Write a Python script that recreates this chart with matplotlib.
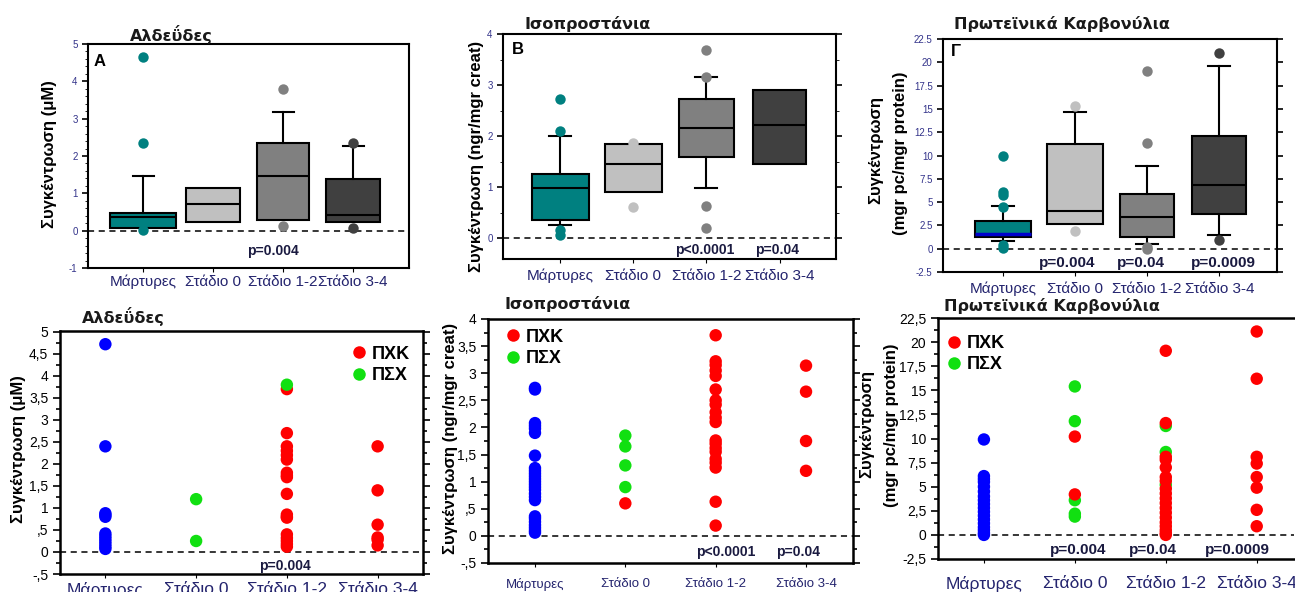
import matplotlib.pyplot as plt
import numpy as np
from matplotlib.ticker import MultipleLocator, FuncFormatter
from matplotlib.lines import Line2D

plt.rcParams['font.family'] = ['Liberation Sans', 'DejaVu Sans']

W, H = 1295, 592

categories = ['Μάρτυρες', 'Στάδιο 0', 'Στάδιο 1-2', 'Στάδιο 3-4']
box_colors = ['#008080', '#c0c0c0', '#808080', '#404040']

# --- top row: box plots (summary stats) ---
ald_q1 = [0.06, 0.24, 0.29, 0.22]
ald_med = [0.37, 0.71, 1.47, 0.43]
ald_q3 = [0.47, 1.14, 2.34, 1.39]
ald_lo = [0.06, 0.24, 0.29, 0.22]
ald_hi = [1.47, 1.14, 3.18, 2.28]
ald_fliers = [[4.65, 2.36, 0.02], [], [3.79, 0.13], [2.36, 0.07]]

iso_q1 = [0.35, 0.90, 1.58, 1.46]
iso_med = [0.99, 1.46, 2.16, 2.22]
iso_q3 = [1.26, 1.84, 2.72, 2.90]
iso_lo = [0.26, 0.90, 0.99, 1.46]
iso_hi = [2.00, 1.84, 3.15, 2.90]
iso_fliers = [[2.73, 2.09, 0.16, 0.07], [1.86, 0.60], [3.68, 3.15, 0.62, 0.19], []]

pc_q1 = [1.25, 2.67, 1.25, 3.67]
pc_med = [1.57, 4.09, 3.45, 6.83]
pc_q3 = [3.02, 11.28, 5.87, 12.06]
pc_lo = [0.78, 2.67, 0.53, 1.42]
pc_hi = [4.60, 14.63, 8.90, 19.57]
pc_fliers = [[9.96, 6.12, 5.77, 4.52, 0.43, 0.07], [15.27, 1.92], [19.07, 11.35, 0.18, 0.0], [21.0, 0.96]]

# --- bottom row: individual values ---
ald_ctrl = [4.72, 2.40, 0.88, 0.84, 0.80, 0.42, 0.36, 0.30, 0.24, 0.18, 0.12, 0.07]
ald_s0_psx = [1.20, 0.25]
ald_s12_pxk = [3.70, 2.70, 2.40, 2.30, 2.20, 2.10, 1.80, 1.74, 1.70, 1.32, 0.85, 0.80, 0.78,
               0.40, 0.32, 0.25, 0.18, 0.12]
ald_s12_psx = [3.80]
ald_s34_pxk = [2.40, 1.40, 0.62, 0.33, 0.28, 0.15]

iso_ctrl = [2.73, 2.70, 2.08, 2.03, 1.98, 1.90, 1.48, 1.25, 1.20, 1.15, 1.10, 1.05, 1.00, 0.95,
            0.90, 0.85, 0.78, 0.72, 0.66, 0.36, 0.32, 0.26, 0.20, 0.15, 0.10, 0.06]
iso_s0_psx = [1.85, 1.65, 1.30, 0.90]
iso_s0_pxk = [0.60]
iso_s12_pxk = [3.70, 3.22, 3.15, 3.05, 2.95, 2.70, 2.50, 2.42, 2.28, 2.18, 2.10, 1.76, 1.70,
               1.62, 1.55, 1.42, 1.35, 1.26, 0.63, 0.19]
iso_s34_pxk = [3.14, 2.66, 1.75, 1.20]

pc_ctrl = [9.9, 6.1, 5.8, 5.5, 5.0, 4.5, 4.0, 3.6, 3.2, 2.8, 2.4, 2.0, 1.6, 1.2, 0.8, 0.5, 0.2, 0.0]
pc_s0_psx = [15.4, 11.8, 3.6, 2.2, 1.9]
pc_s0_pxk = [10.2, 4.2]
pc_s12_pxk = [19.1, 11.6, 8.1, 7.8, 7.0, 6.0, 5.6, 4.8, 4.3, 3.8, 3.3, 2.8, 2.3, 1.8, 1.3, 0.9,
              0.5, 0.2, 0.0]
pc_s12_psx = [11.3, 8.6, 5.2]
pc_s34_pxk = [21.1, 16.2, 8.1, 7.4, 6.0, 4.9, 2.6, 0.9]

NAVY = '#24246e'
TFONT = ['DejaVu Sans']

fig = plt.figure(figsize=(W / 100, H / 100), dpi=100)


def px_axes(l, t, r, b):
    return fig.add_axes([l / W, 1 - b / H, (r - l) / W, (b - t) / H])


def ftext(x, y, s, **kw):
    fig.text(x / W, 1 - y / H, s, ha='center', va='center', **kw)


def comma_fmt(v, pos):
    s = '{:g}'.format(round(v, 3)).replace('.', ',')
    if s.startswith('0,'):
        s = s[1:]
    if s.startswith('-0,'):
        s = '-' + s[2:]
    return s


def draw_box(ax, q1, med, q3, lo, hi, fl, widths):
    stats = [dict(q1=q1[i], med=med[i], q3=q3[i], whislo=lo[i], whishi=hi[i], fliers=fl[i])
             for i in range(4)]
    bp = ax.bxp(stats, positions=[1, 2, 3, 4], widths=widths, patch_artist=True, capwidths=0.3,
                boxprops=dict(linewidth=1.5, edgecolor='black'),
                medianprops=dict(color='black', linewidth=1.5),
                whiskerprops=dict(color='black', linewidth=1.5),
                capprops=dict(color='black', linewidth=1.5),
                flierprops=dict(marker='o', markersize=7.5, markeredgewidth=0))
    for i, c in enumerate(box_colors):
        bp['boxes'][i].set_facecolor(c)
        bp['fliers'][i].set_markerfacecolor(c)
        bp['fliers'][i].set_markeredgecolor(c)
        if lo[i] >= q1[i]:
            bp['caps'][2 * i].set_visible(False)
            bp['whiskers'][2 * i].set_visible(False)
        if hi[i] <= q3[i]:
            bp['caps'][2 * i + 1].set_visible(False)
            bp['whiskers'][2 * i + 1].set_visible(False)
    return bp


def style_top(ax, xlim, ylim, major, minor, right, pad):
    ax.set_xlim(*xlim)
    ax.set_ylim(*ylim)
    ax.axhline(0, color='black', linestyle='--', linewidth=1.1, dashes=(4, 3), zorder=1)
    ax.set_xticks([1, 2, 3, 4])
    ax.set_xticklabels(categories, fontsize=11, color=NAVY)
    ax.yaxis.set_major_locator(MultipleLocator(major))
    if minor:
        ax.yaxis.set_minor_locator(MultipleLocator(minor))
    ax.yaxis.set_major_formatter(FuncFormatter(lambda v, p: '{:g}'.format(round(v, 2))))
    ax.tick_params(axis='y', which='major', labelsize=7, labelcolor='#33338a', length=4,
                   right=right, width=1.2)
    ax.tick_params(axis='y', which='minor', length=2, right=right)
    ax.tick_params(axis='x', length=3, pad=pad)
    for s in ax.spines.values():
        s.set_linewidth(1.5)


def style_bottom(ax, xlim, ylim, major, pad, xsize):
    ax.set_xlim(*xlim)
    ax.set_ylim(*ylim)
    ax.axhline(0, color='black', linestyle='--', linewidth=1.1, dashes=(4, 3), zorder=1)
    ax.set_xticks([1, 2, 3, 4])
    ax.set_xticklabels(categories, fontsize=xsize, color=NAVY)
    ax.yaxis.set_major_locator(MultipleLocator(major))
    ax.yaxis.set_minor_locator(MultipleLocator(major / 2))
    ax.yaxis.set_major_formatter(FuncFormatter(comma_fmt))
    ax.tick_params(axis='y', which='both', right=True, width=1.2)
    ax.tick_params(axis='y', which='major', labelsize=10, length=5)
    ax.tick_params(axis='y', which='minor', length=3)
    ax.tick_params(axis='x', length=3, pad=pad)
    for s in ax.spines.values():
        s.set_linewidth(1.8)


def scatter_groups(ax, groups):
    for x, vals, col in groups:
        ax.scatter(np.full(len(vals), x), vals, s=80, color=col, edgecolors='none', zorder=3)


def legend_pk(ax, anchor):
    handles = [Line2D([], [], marker='o', linestyle='none', markersize=9,
                      markerfacecolor=c, markeredgecolor='none') for c in ['#ff0000', '#11e011']]
    ax.legend(handles, ['ΠΧΚ', 'ΠΣΧ'], loc='upper left', bbox_to_anchor=anchor, frameon=False,
              prop=dict(weight='bold', size=13), handletextpad=0.2, labelspacing=0.25,
              borderaxespad=0, handlelength=1.0)


def ptext(ax, x, y, s, size):
    ax.text(x, y, s, ha='center', va='center', fontsize=size, fontweight='bold', color='#1a1a40')


# ---------- top row ----------
axA = px_axes(88, 44, 409, 268)
draw_box(axA, ald_q1, ald_med, ald_q3, ald_lo, ald_hi, ald_fliers, [0.95, 0.78, 0.75, 0.78])
style_top(axA, (0.21, 4.8), (-1, 5), 1, 0.2, False, 2)
ptext(axA, 2.85, -0.55, 'p=0.004', 10)

axB = px_axes(503, 34, 836, 259)
draw_box(axB, iso_q1, iso_med, iso_q3, iso_lo, iso_hi, iso_fliers, [0.78, 0.78, 0.75, 0.72])
style_top(axB, (0.22, 4.77), (-0.41, 4), 1, 0.5, True, 4)
ptext(axB, 2.97, -0.24, 'p<0.0001', 10)
ptext(axB, 3.97, -0.24, 'p=0.04', 10)

axC = px_axes(943, 39, 1277, 272)
bpC = draw_box(axC, pc_q1, pc_med, pc_q3, pc_lo, pc_hi, pc_fliers, [0.78, 0.78, 0.75, 0.75])
bpC['medians'][0].set_color('#0000cc')
bpC['medians'][0].set_linewidth(2.5)
style_top(axC, (0.17, 4.8), (-2.5, 22.5), 2.5, None, True, 4)
ptext(axC, 1.89, -1.5, 'p=0.004', 11)
ptext(axC, 2.92, -1.5, 'p=0.04', 11)
ptext(axC, 4.06, -1.5, 'p=0.0009', 11)

ftext(171, 34, 'Αλδεΰδες', family=TFONT, fontsize=11.5, fontweight='bold', color='#1a1a1a')
ftext(588, 24, 'Ισοπροστάνια', family=TFONT, fontsize=11.5, fontweight='bold', color='#1a1a1a')
ftext(1062, 24, 'Πρωτεϊνικά Καρβονύλια', family=TFONT, fontsize=11.5, fontweight='bold',
      color='#1a1a1a')
ftext(100, 62, 'Α', fontsize=12, fontweight='bold')
ftext(518, 49, 'Β', fontsize=12, fontweight='bold')
ftext(956, 52, 'Γ', fontsize=12, fontweight='bold')

ftext(50, 154, 'Συγκέντρωση (μΜ)', rotation=90, fontsize=12, fontweight='bold')
ftext(476, 156, 'Συγκέντρωση (ngr/mgr creat)', rotation=90, fontsize=12, fontweight='bold')
ftext(876, 150, 'Συγκέντρωση', rotation=90, fontsize=12, fontweight='bold')
ftext(900, 153, '(mgr pc/mgr protein)', rotation=90, fontsize=12, fontweight='bold')

# ---------- bottom row ----------
axD = px_axes(60, 331, 423, 574)
scatter_groups(axD, [(1, ald_ctrl, '#0000ff'), (2, ald_s0_psx, '#11e011'),
                     (3, ald_s12_pxk, '#ff0000'), (3, ald_s12_psx, '#11e011'),
                     (4, ald_s34_pxk, '#ff0000')])
style_bottom(axD, (0.5, 4.5), (-0.5, 5.02), 0.5, 3, 12.5)
legend_pk(axD, (0.78, 0.97))
ptext(axD, 2.98, -0.32, 'p=0.004', 10)

axE = px_axes(488, 319, 853, 563)
scatter_groups(axE, [(1, iso_ctrl, '#0000ff'), (2, iso_s0_pxk, '#ff0000'),
                     (2, iso_s0_psx, '#11e011'), (3, iso_s12_pxk, '#ff0000'),
                     (4, iso_s34_pxk, '#ff0000')])
style_bottom(axE, (0.48, 4.52), (-0.5, 4), 0.5, 8, 9.5)
legend_pk(axE, (0.025, 0.99))
ptext(axE, 3.11, -0.3, 'p<0.0001', 10)
ptext(axE, 3.91, -0.3, 'p=0.04', 10)

axF = px_axes(938, 318, 1294, 559)
scatter_groups(axF, [(1, pc_ctrl, '#0000ff'), (2, pc_s0_psx, '#11e011'),
                     (2, pc_s0_pxk, '#ff0000'), (3, pc_s12_psx, '#11e011'),
                     (3, pc_s12_pxk, '#ff0000'), (4, pc_s34_pxk, '#ff0000')])
style_bottom(axF, (0.495, 4.41), (-2.5, 22.5), 2.5, 9, 12.5)
axF.spines['right'].set_visible(False)
axF.tick_params(axis='y', which='both', right=False)
legend_pk(axF, (0.0, 0.96))
ptext(axF, 2.04, -1.57, 'p=0.004', 11)
ptext(axF, 2.86, -1.57, 'p=0.04', 11)
ptext(axF, 3.79, -1.57, 'p=0.0009', 11)

ftext(123, 316, 'Αλδεΰδες', family=TFONT, fontsize=11.5, fontweight='bold', color='#1a1a1a')
ftext(568, 304, 'Ισοπροστάνια', family=TFONT, fontsize=11.5, fontweight='bold', color='#1a1a1a')
ftext(1052, 306, 'Πρωτεϊνικά Καρβονύλια', family=TFONT, fontsize=11.5, fontweight='bold',
      color='#1a1a1a')

ftext(19, 449, 'Συγκέντρωση (μΜ)', rotation=90, fontsize=12, fontweight='bold')
ftext(451, 438, 'Συγκέντρωση (ngr/mgr creat)', rotation=90, fontsize=12, fontweight='bold')
ftext(867, 424, 'Συγκέντρωση', rotation=90, fontsize=12, fontweight='bold')
ftext(891, 425, '(mgr pc/mgr protein)', rotation=90, fontsize=12, fontweight='bold')

fig.savefig('out.png', dpi=100)
